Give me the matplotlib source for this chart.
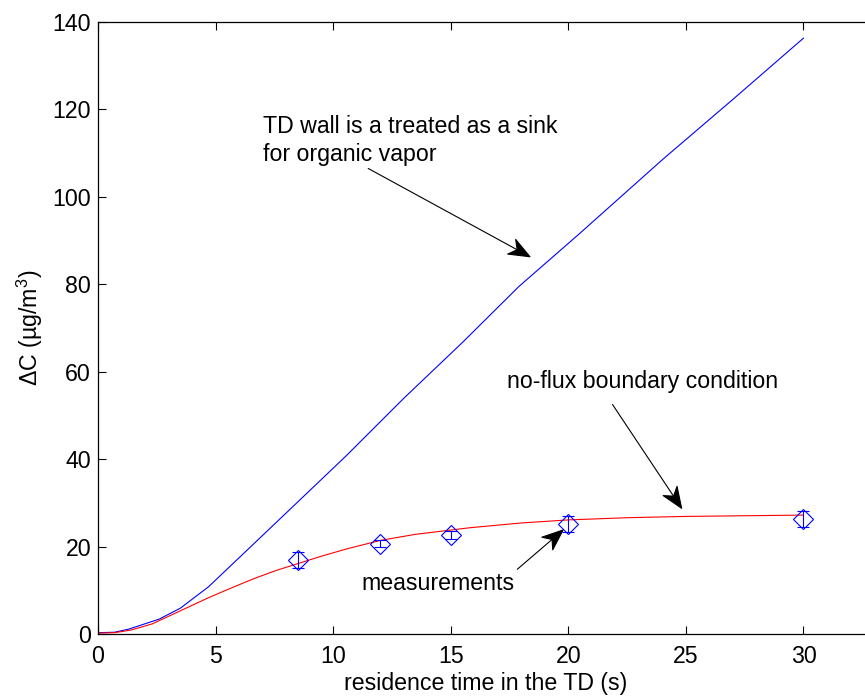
import numpy as np
import matplotlib.pyplot as plt
from matplotlib.path import Path
from matplotlib.patches import ArrowStyle

plt.rcParams['font.family'] = ['Liberation Sans', 'DejaVu Sans']
plt.rcParams['mathtext.fontset'] = 'custom'
plt.rcParams['mathtext.rm'] = 'Liberation Sans'

# 壁面为汇 (sink) 的模拟结果
sink_t = [0, 0.7, 1.3, 2.6, 3.5, 4.7, 7.4, 10.6, 13.0, 15.5, 17.9, 20.5,
          24.0, 27.0, 30.0]
sink_dc = [0.3, 0.4, 1.1, 3.4, 5.9, 10.8, 24.6, 41.0, 53.9, 66.7, 79.5, 91.7,
           108.5, 122.3, 136.3]

# 无通量边界条件
noflux_t = [0, 0.7, 1.4, 2.3, 3.5, 4.7, 5.7, 6.6, 7.5, 8.5, 9.5, 10.6, 12.0,
            13.5, 15.8, 18.0, 20.0, 22.5, 25.0, 30.0]
noflux_dc = [0.2, 0.3, 0.9, 2.3, 5.3, 8.3, 10.6, 12.6, 14.4, 16.1, 17.8, 19.5,
             21.4, 22.8, 24.3, 25.4, 26.1, 26.6, 26.9, 27.2]

# 测量值
meas_t = [8.5, 12, 15, 20, 30]
meas_dc = [16.9, 20.6, 22.65, 25.2, 26.3]
meas_err = [1.9, 0.8, 0.9, 1.9, 1.9]

FS = 16.7


class ConcaveHead(ArrowStyle._Base):
    """类似 MATLAB 的燕尾形箭头"""

    def __init__(self, head_length=1.5, head_width=0.6, notch=0.3):
        self.head_length = head_length
        self.head_width = head_width
        self.notch = notch
        super().__init__()

    def transmute(self, path, mutation_size, linewidth):
        p0 = np.asarray(path.vertices[0], float)
        p1 = np.asarray(path.vertices[-1], float)
        d = (p1 - p0) / np.hypot(*(p1 - p0))
        n = np.array([-d[1], d[0]])
        hl = self.head_length * mutation_size
        hw = self.head_width * mutation_size
        back = p1 - d * hl
        mid = p1 - d * hl * (1 - self.notch)
        shaft = Path([p0, mid])
        head = Path([p1, back + n * hw, mid, back - n * hw, p1],
                    [Path.MOVETO, Path.LINETO, Path.LINETO, Path.LINETO,
                     Path.CLOSEPOLY])
        return [shaft, head], [False, True]


fig = plt.figure(figsize=(8.65, 6.96), dpi=100)
ax = fig.add_axes([98 / 865, 62 / 696, 776 / 865, 612 / 696])

ax.plot(sink_t, sink_dc, color='#0000ff', linewidth=0.8)
ax.plot(noflux_t, noflux_dc, color='#ff0000', linewidth=0.8)
ax.errorbar(meas_t, meas_dc, yerr=meas_err, fmt='D', color='#0000ff',
            markerfacecolor='none', markersize=10.5, markeredgewidth=0.8,
            elinewidth=0.8, capsize=4, capthick=0.8)

ax.set_xlim(0, 33)
ax.set_ylim(0, 140)
ax.set_xticks(np.arange(0, 31, 5))
ax.set_yticks(np.arange(0, 141, 20))
ax.tick_params(direction='in', length=5.5, width=0.8, labelsize=FS,
               top=True, right=True)
ax.tick_params(axis='x', pad=8)
ax.tick_params(axis='y', pad=5)
for s in ax.spines.values():
    s.set_linewidth(0.9)

ax.set_xlabel('residence time in the TD (s)', fontsize=FS, labelpad=3)
ax.set_ylabel('ΔC (µg/m$^3$)', fontsize=FS, labelpad=5)

arrow = dict(arrowstyle=ConcaveHead(), color='black', linewidth=0.8,
             shrinkA=0, shrinkB=0, mutation_scale=10)

ax.annotate('', xy=(18.37, 86.3), xytext=(11.49, 106.5), arrowprops=arrow)
ax.text(7.0, 118.8, 'TD wall is a treated as a sink\nfor organic vapor',
        fontsize=FS, va='top', ha='left', linespacing=1.3)

ax.annotate('', xy=(24.82, 28.75), xytext=(21.88, 52.5), arrowprops=arrow)
ax.text(17.4, 56.3, 'no-flux boundary condition', fontsize=FS, va='baseline')

ax.annotate('', xy=(19.78, 23.8), xytext=(17.83, 14.8), arrowprops=arrow)
ax.text(11.22, 10.07, 'measurements', fontsize=FS, va='baseline')

fig.savefig('out.png', dpi=100)
